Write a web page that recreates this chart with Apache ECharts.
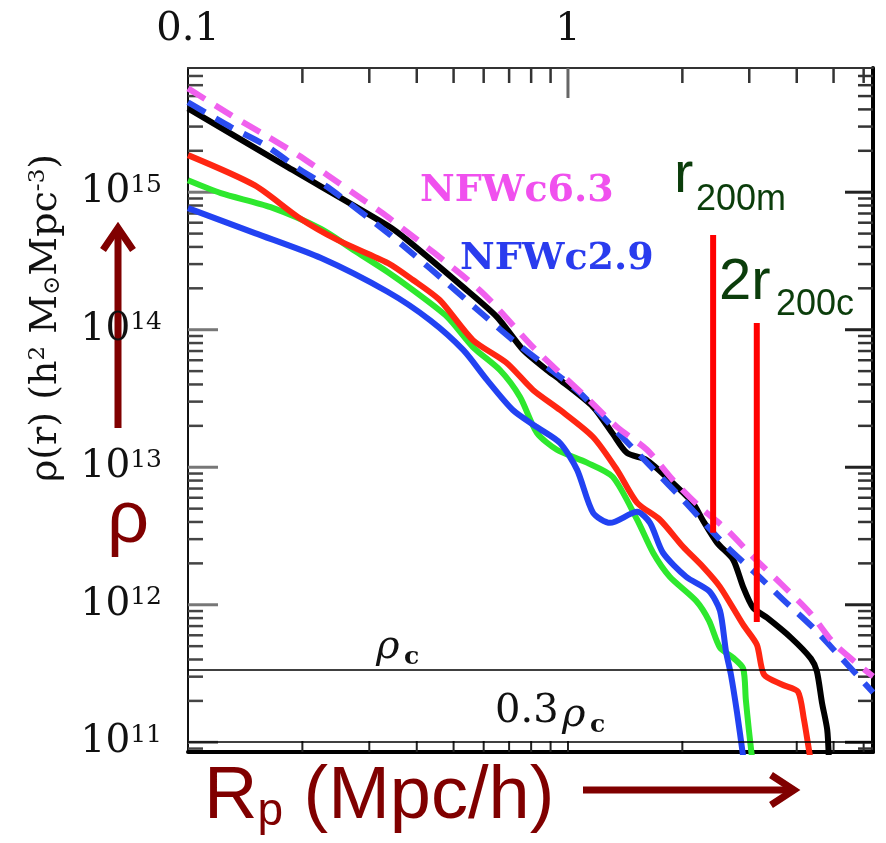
<!DOCTYPE html>
<html><head><meta charset="utf-8">
<script src="https://cdn.jsdelivr.net/npm/echarts@6/dist/echarts.min.js"></script>
<style>html,body{margin:0;padding:0;background:#fff}#c{width:886px;height:843px}</style>
</head><body><div id="c"></div>
<script>
// ---- axis ranges / ticks ----
const xMin = 0.1, xMax = 6.35, yMin = 8.5e10, yMax = 8e15;
const xMajorTicks = [1];
const xMinorTicks = [0.2,0.3,0.4,0.5,0.6,0.7,0.8,0.9,2,3,4,5,6];
const yMajorTicks = [1e11,1e12,1e13,1e14,1e15];
const yMinorMantissas = [2,3,4,5,6,7,8,9];

// ---- profiles (R in Mpc/h, rho in h^2 Msun Mpc^-3) ----
const blackX = [0.1,0.183,0.336,0.377,0.530,0.650,0.762,0.881,0.953,1.164,1.312,1.43,1.61,1.85,2.13,2.26,2.47,2.72,2.89,3.07,3.34,3.86,4.36,4.52,4.66,4.81,4.86];
const blackY = [4.07e15,1.52e15,5.70e14,4.50e14,2.04e14,1.24e14,7.13e13,5.09e13,4.32e13,2.75e13,1.75e13,1.27e13,1.13e13,8.09e12,5.51e12,4.15e12,2.82e12,2.13e12,1.35e12,9.53e11,8.05e11,5.77e11,4.06e11,3.27e11,1.95e11,1.24e11,7.5e10];

const redX = [0.1,0.150,0.195,0.248,0.336,0.391,0.460,0.562,0.690,0.809,0.953,1.164,1.346,1.521,1.746,2.009,2.265,2.512,2.891,3.141,3.281,3.656,4.027,4.178,4.285,4.335];
const redY = [1.86e15,1.12e15,6.58e14,4.48e14,3.05e14,2.30e14,1.64e14,8.41e13,5.73e13,3.65e13,2.61e13,1.66e13,9.57e12,5.51e12,4.15e12,2.64e12,1.89e12,1.35e12,7.16e11,5.13e11,3.10e11,2.63e11,2.34e11,1.47e11,9.64e10,7.9e10];

const greenX = [0.1,0.122,0.165,0.224,0.275,0.336,0.391,0.481,0.562,0.662,0.748,0.828,0.935,1.122,1.312,1.521,1.675,1.853,2.173,2.350,2.512,2.716,2.891,2.938,2.992,3.048];
const greenY = [1.22e15,9.84e14,7.78e14,5.40e14,3.74e14,2.62e14,1.94e14,1.24e14,7.48e13,5.09e13,3.24e13,1.78e13,1.34e13,1.08e13,8.51e12,4.15e12,2.39e12,1.60e12,1.07e12,7.67e11,4.88e11,4.13e11,3.44e11,2.05e11,1.24e11,7.9e10];

const blueX = [0.1,0.150,0.224,0.336,0.434,0.530,0.612,0.716,0.828,0.953,1.057,1.164,1.291,1.521,1.644,1.778,2.046,2.350,2.512,2.606,2.685,2.786,2.891];
const blueY = [7.66e14,5.04e14,3.32e14,1.88e14,1.17e14,7.13e13,4.32e13,2.61e13,1.96e13,1.50e13,9.57e12,4.67e12,3.94e12,4.74e12,3.94e12,2.39e12,1.60e12,1.26e12,9.06e11,4.56e11,3.10e11,1.64e11,7.9e10];

const nfw63X = [0.1,0.130,0.160,0.195,0.233,0.285,0.336,0.586,0.809,0.953,1.122,1.346,1.614,1.888,2.223,2.618,3.069,3.639,4.355,5.047,6.353];
const nfw63Y = [5.69e15,3.62e15,2.59e15,1.86e15,1.33e15,9.04e14,6.58e14,1.94e14,7.48e13,4.85e13,3.19e13,1.96e13,1.34e13,8.09e12,5.15e12,3.51e12,2.23e12,1.42e12,8.61e11,5.13e11,3.01e11];

const nfw29X = [0.1,0.130,0.160,0.195,0.233,0.336,0.391,0.481,0.586,0.716,0.881,1.076,1.346,1.675,2.009,2.618,3.141,3.681,4.416,5.140,6.353];
const nfw29Y = [4.51e15,2.96e15,2.19e15,1.49e15,1.09e15,5.04e14,3.55e14,2.18e14,1.35e14,8.41e13,5.36e13,3.47e13,1.81e13,9.73e12,5.79e12,2.64e12,1.66e12,1.09e12,6.82e11,4.35e11,2.30e11];

// reference densities: rho_c and 0.3 rho_c
const refLevels = [3.37e11, 1.01e11];
// radius markers: r200m and 2 r200c
const markerX = [2.41, 3.14];
const markerTop = [4.88e14, 1.12e14];
const markerBottom = [3.34e12, 7.5e11];

const zip = (xs, ys) => xs.map((x, i) => [x, ys[i]]);
const DR = '#800000';

function tickRender(params, api) {
  const cs = params.coordSys;
  const L = cs.x, R = cs.x + cs.width, T = cs.y, B = cs.y + cs.height;
  const ch = [];
  const ln = (x1,y1,x2,y2,w,c) => ch.push({type:'line', silent:true, shape:{x1,y1,x2,y2}, style:{stroke:c, lineWidth:w}});
  xMinorTicks.forEach(v => { const p = api.coord([v, 1e13])[0]; ln(p,T,p,T+15,2.5,'#333'); ln(p,B,p,B-11,2,'#222'); });
  xMajorTicks.forEach(v => { const p = api.coord([v, 1e13])[0]; ln(p,T,p,T+30,3,'#666'); ln(p,B,p,B-11,2,'#222'); });
  yMajorTicks.forEach(d => {
    const p = api.coord([1, d])[1];
    ln(L,p,L+30,p,3,'#777'); ln(R,p,R-28,p,3,'#222');
    yMinorMantissas.forEach(m => {
      const q = api.coord([1, d*m])[1];
      if (q > T && q < B) { ln(L,q,L+15,q,2.5,'#444'); ln(R,q,R-15,q,2.5,'#333'); }
    });
  });
  yMinorMantissas.forEach(m => {
    const q = api.coord([1, 1e10*m])[1];
    if (q > T && q < B) { ln(L,q,L+15,q,2.5,'#444'); ln(R,q,R-15,q,2.5,'#333'); }
  });
  return {type:'group', children: ch};
}

const lineS = (name, data, color, dashed, z) => ({
  name, type:'line', data, showSymbol:false, smooth:0.25, z,
  lineStyle:{color, width:6, type: dashed ? [20,12] : 'solid', cap:'butt', join:'round'}
});

const chart = echarts.init(document.getElementById('c'), null, {renderer:'canvas'});
const serif = 'DejaVu Serif';
const sans = 'Liberation Sans';

chart.setOption({
  animation:false,
  backgroundColor:'#fff',
  grid:{left:188, top:68, right:13, bottom:91},
  xAxis:[
    {type:'log', min:xMin, max:xMax, position:'top',
     axisLine:{show:true, onZero:false, lineStyle:{color:'#333', width:2}},
     axisTick:{show:false}, splitLine:{show:false}, minorTick:{show:false},
     axisLabel:{margin:18, fontFamily:serif, fontSize:40, color:'#111',
       formatter: v => (Math.abs(v-0.1)<1e-9 ? '0.1' : (Math.abs(v-1)<1e-9 ? '1' : ''))}},
    {type:'log', min:xMin, max:xMax, position:'bottom',
     axisLine:{show:true, onZero:false, lineStyle:{color:'#000', width:4}},
     axisTick:{show:false}, axisLabel:{show:false}, splitLine:{show:false}}
  ],
  yAxis:[
    {type:'log', min:yMin, max:yMax, position:'left',
     axisLine:{show:true, onZero:false, lineStyle:{color:'#111', width:2}},
     axisTick:{show:false}, splitLine:{show:false},
     axisLabel:{margin:26, formatter: v => {
        const e = Math.log10(v), r = Math.round(e);
        if (Math.abs(e-r) > 1e-6) return '';
        return '{b|10}{s|' + r + '}';
      },
      rich:{b:{fontFamily:serif, fontSize:39, color:'#111'},
            s:{fontFamily:serif, fontSize:25, color:'#111', verticalAlign:'top'}}}},
    {type:'log', min:yMin, max:yMax, position:'right',
     axisLine:{show:true, onZero:false, lineStyle:{color:'#000', width:4}},
     axisTick:{show:false}, axisLabel:{show:false}, splitLine:{show:false}}
  ],
  series:[
    {type:'custom', renderItem: tickRender, data:[[1,1e13]], z:1, silent:true, clip:false},
    {type:'line', data:[], z:2, markLine:{silent:true, symbol:'none', label:{show:false},
      lineStyle:{color:'#000', width:1.5, type:'solid'},
      data: refLevels.map(v => ({yAxis:v}))}},
    lineS('green', zip(greenX, greenY), '#2ee82e', false, 3),
    lineS('blue', zip(blueX, blueY), '#2242f2', false, 3),
    lineS('red', zip(redX, redY), '#ff2612', false, 3),
    lineS('black', zip(blackX, blackY), '#000000', false, 4),
    lineS('nfw29', zip(nfw29X, nfw29Y), '#2a4cf0', true, 5),
    lineS('nfw63', zip(nfw63X, nfw63Y), '#f060ee', true, 5),
    ...markerX.map((x, i) => ({type:'line', data:[[x, markerTop[i]],[x, markerBottom[i]]], showSymbol:false, z:6,
      lineStyle:{color:'#ff0000', width:6}}))
  ],
  graphic:[
    {type:'text', x:46, y:318, rotation:Math.PI/2, style:{
      text:'ρ(r) (h{sp|2} M{sb|⊙}Mpc{sp|-3})', fill:'#111', font:'38px "DejaVu Serif"', align:'center', verticalAlign:'middle',
      rich:{sp:{fontFamily:serif, fontSize:23, fill:'#111', verticalAlign:'top'},
            sb:{fontFamily:serif, fontSize:23, fill:'#111', verticalAlign:'bottom'}}}},
    {type:'polyline', shape:{points:[[118,428],[118,228]]}, style:{stroke:DR, lineWidth:7}},
    {type:'polyline', shape:{points:[[103,250],[118,228],[133,250]]}, style:{stroke:DR, lineWidth:7, fill:null, lineJoin:'miter'}},
    {type:'text', x:128, y:522, style:{text:'ρ', fill:DR, font:'74px "Liberation Sans"', align:'center', verticalAlign:'middle'}},
    {type:'text', x:204, y:798, style:{text:'{a|R}{p|p}{a| (Mpc/h)}', fill:DR, verticalAlign:'middle', align:'left',
      rich:{a:{fontFamily:sans, fontSize:74, fill:DR}, p:{fontFamily:sans, fontSize:46, fill:DR, verticalAlign:'bottom'}}}},
    {type:'polyline', shape:{points:[[583,790],[792,790]]}, style:{stroke:DR, lineWidth:7}},
    {type:'polyline', shape:{points:[[771,775],[794,790],[771,805]]}, style:{stroke:DR, lineWidth:7, fill:null}},
    {type:'text', x:420, y:191, style:{text:'NFWc6.3', fill:'#f050ee', font:'bold 38px "DejaVu Serif"', verticalAlign:'middle'}},
    {type:'text', x:460, y:259, style:{text:'NFWc2.9', fill:'#2a3cee', font:'bold 38px "DejaVu Serif"', verticalAlign:'middle'}},
    {type:'text', x:674, y:176, style:{text:'r', fill:'#0b3d0b', font:'58px "Liberation Sans"', verticalAlign:'middle'}},
    {type:'text', x:696, y:200, style:{text:'200m', fill:'#0b3d0b', font:'36px "Liberation Sans"', verticalAlign:'middle'}},
    {type:'text', x:719, y:283, style:{text:'2r', fill:'#0b3d0b', font:'58px "Liberation Sans"', verticalAlign:'middle'}},
    {type:'text', x:776, y:305, style:{text:'200c', fill:'#0b3d0b', font:'36px "Liberation Sans"', verticalAlign:'middle'}},
    {type:'text', x:376, y:648, style:{text:'ρ', fill:'#111', font:'italic 40px "DejaVu Serif"', verticalAlign:'middle'}},
    {type:'text', x:404, y:657, style:{text:'c', fill:'#111', font:'bold 25px "DejaVu Serif"', verticalAlign:'middle'}},
    {type:'text', x:495, y:712, style:{text:'0.3', fill:'#111', font:'40px "DejaVu Serif"', verticalAlign:'middle'}},
    {type:'text', x:562, y:716, style:{text:'ρ', fill:'#111', font:'italic 40px "DejaVu Serif"', verticalAlign:'middle'}},
    {type:'text', x:590, y:725, style:{text:'c', fill:'#111', font:'bold 25px "DejaVu Serif"', verticalAlign:'middle'}}
  ]
});
</script></body></html>
